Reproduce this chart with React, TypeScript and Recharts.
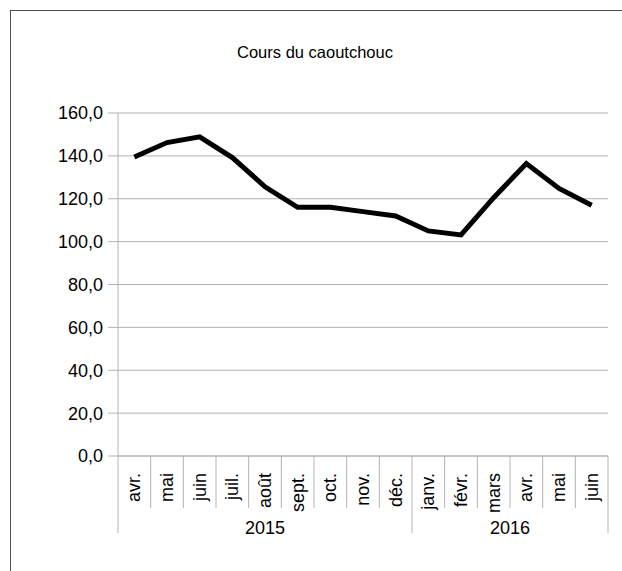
import React from "react";
import { LineChart, Line, XAxis, YAxis, CartesianGrid } from "recharts";

const months = ["avr.", "mai", "juin", "juil.", "août", "sept.", "oct.", "nov.", "déc.", "janv.", "févr.", "mars", "avr.", "mai", "juin"];
const years = ["2015", "2015", "2015", "2015", "2015", "2015", "2015", "2015", "2015", "2016", "2016", "2016", "2016", "2016", "2016"];
const prices = [139.5, 146.2, 148.9, 139.2, 125.6, 116.0, 116.0, 114.0, 112.0, 105.0, 103.1, 120.5, 136.4, 124.8, 117.0];
const yTicks = [0, 20, 40, 60, 80, 100, 120, 140, 160];

const data = months.map((m, i) => ({ month: m, year: years[i], price: prices[i] }));

const FONT = "'Liberation Sans', Arial, sans-serif";
const GRID = "#b3b3b3";
const PLOT_W = 490;
const HALF = PLOT_W / months.length / 2;

function MonthTick(props: any) {
  const { x, y, payload, index } = props;
  const i = typeof index === "number" ? index : payload.index;
  const yr = years[i];
  const firstOfGroup = i === 0 || years[i - 1] !== yr;
  const last = i === months.length - 1;
  let groupLen = 0;
  if (firstOfGroup) {
    for (let k = i; k < years.length && years[k] === yr; k++) groupLen++;
  }
  const ty = y + 17;
  return (
    <g>
      <line x1={x - HALF} y1={y} x2={x - HALF} y2={y + (firstOfGroup ? 77 : 52)} stroke={GRID} strokeWidth={1} />
      {last && <line x1={x + HALF} y1={y} x2={x + HALF} y2={y + 77} stroke={GRID} strokeWidth={1} />}
      <text
        x={x}
        y={ty}
        transform={`rotate(-90, ${x}, ${ty})`}
        textAnchor="end"
        dominantBaseline="central"
        fontSize={18}
        fontFamily={FONT}
        fill="#000"
      >
        {payload.value}
      </text>
      {firstOfGroup && (
        <text x={x - HALF + groupLen * HALF} y={y + 78} textAnchor="middle" fontSize={18} fontFamily={FONT} fill="#000">
          {yr}
        </text>
      )}
    </g>
  );
}

export default function App() {
  return (
    <div style={{ position: "absolute", left: 0, top: 0, width: 622, height: 571, overflow: "hidden", background: "#fff" }}>
      <div
        style={{
          position: "absolute",
          left: 10,
          top: 10,
          width: 800,
          height: 800,
          borderLeft: "1px solid #4d4d4d",
          borderTop: "1px solid #4d4d4d",
        }}
      />
      <div
        style={{
          position: "absolute",
          left: 0,
          width: 630,
          top: 43,
          textAlign: "center",
          fontFamily: FONT,
          fontSize: 16.5,
          color: "#000",
        }}
      >
        Cours du caoutchouc
      </div>
      <LineChart width={622} height={571} data={data} margin={{ top: 113, right: 14, left: 58, bottom: 38 }}>
        <CartesianGrid vertical={false} stroke={GRID} />
        <XAxis
          dataKey="month"
          interval={0}
          height={77}
          padding={{ left: HALF, right: HALF }}
          tickSize={0}
          tickMargin={0}
          tickLine={false}
          axisLine={{ stroke: GRID }}
          tick={<MonthTick />}
        />
        <YAxis
          domain={[0, 160]}
          ticks={yTicks}
          width={60}
          tickSize={10}
          tickMargin={5}
          tickLine={{ stroke: GRID }}
          axisLine={{ stroke: GRID }}
          tick={{ fontSize: 18, fill: "#000", fontFamily: FONT }}
          tickFormatter={(v: number) => v.toFixed(1).replace(".", ",")}
        />
        <YAxis
          yAxisId="right"
          orientation="right"
          domain={[0, 160]}
          width={0}
          tick={false}
          tickLine={false}
          axisLine={{ stroke: GRID }}
        />
        <Line type="linear" dataKey="price" stroke="#000" strokeWidth={5} dot={false} isAnimationActive={false} />
      </LineChart>
    </div>
  );
}
